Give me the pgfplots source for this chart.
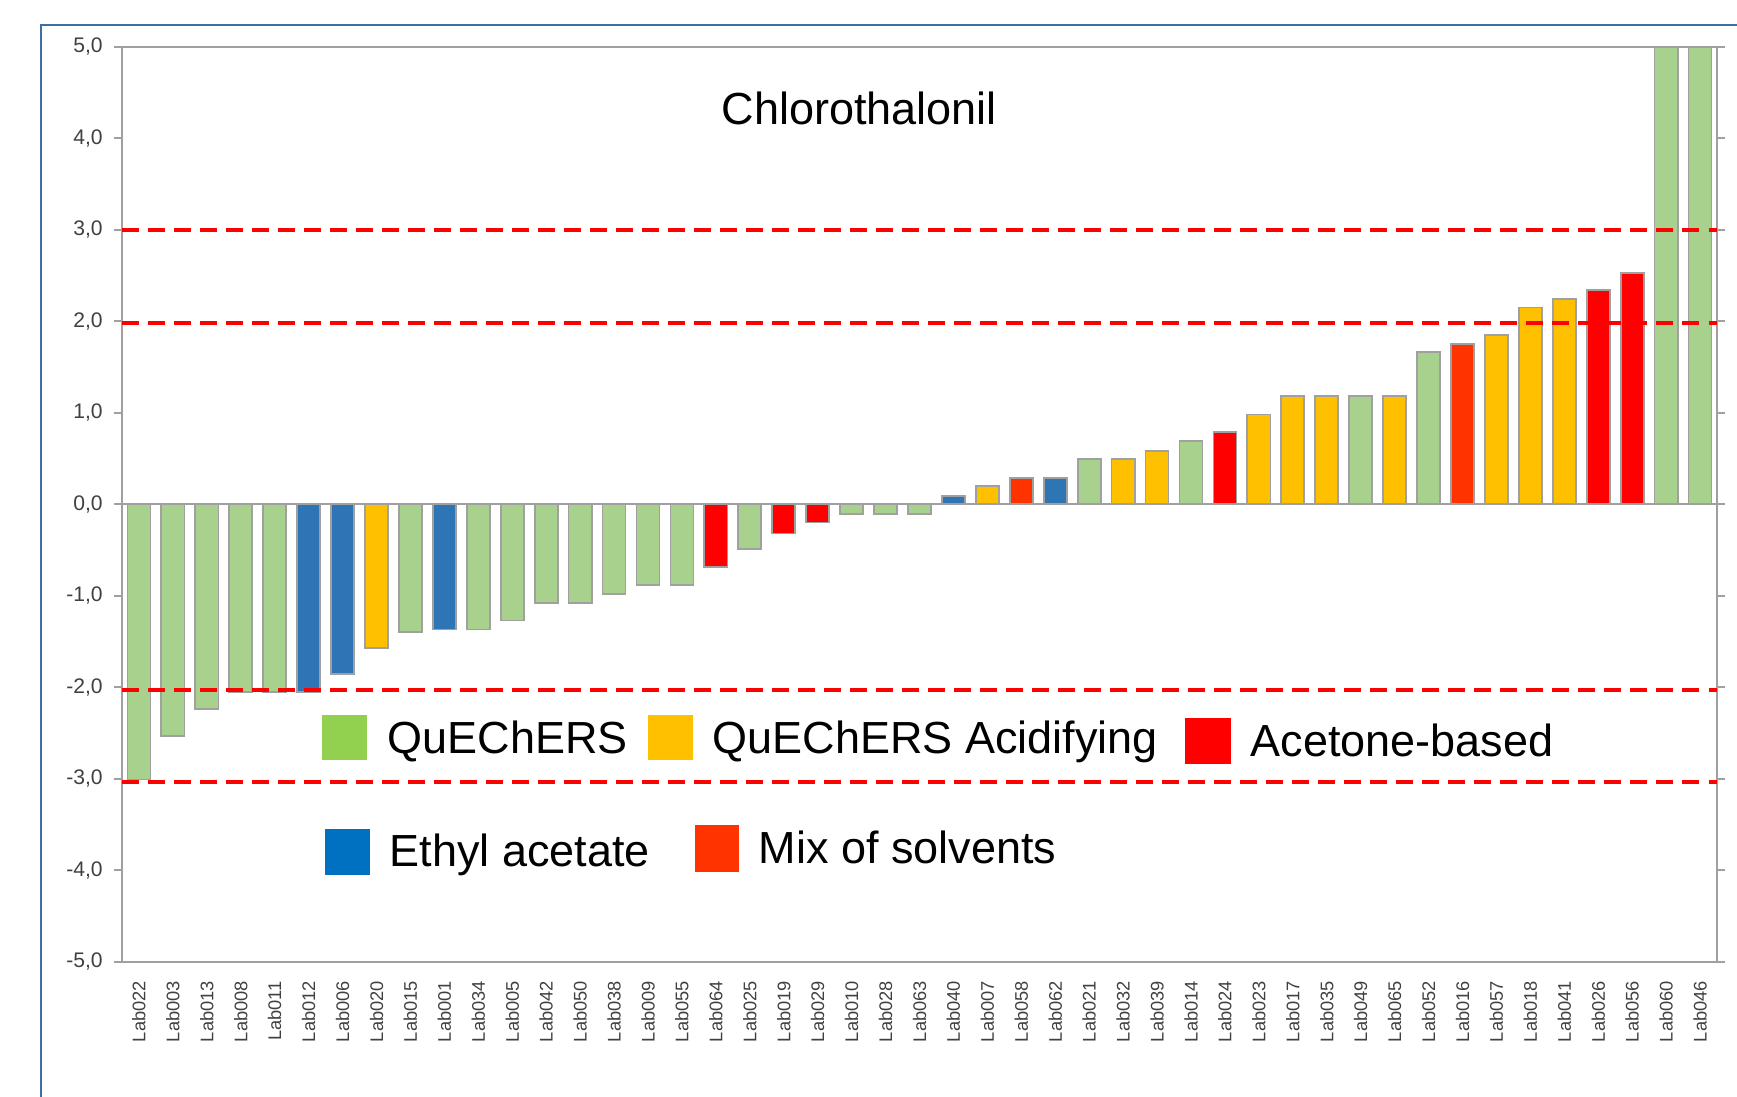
\documentclass[border=0pt]{standalone}
\usepackage{fontspec}
\setmainfont{Liberation Sans}
\usepackage{pgfplots}
\pgfplotsset{compat=1.18}

\definecolor{barG}{HTML}{A9D18E}
\definecolor{barB}{HTML}{2E75B6}
\definecolor{barY}{HTML}{FFC000}
\definecolor{barR}{HTML}{FF0000}
\definecolor{barO}{HTML}{FF3300}
\definecolor{lgG}{HTML}{92D050}
\definecolor{lgB}{HTML}{0070C0}
\definecolor{edge}{HTML}{A0A0A0}
\definecolor{frameblue}{HTML}{3F6DAA}
\definecolor{ticktext}{HTML}{404040}
\tikzset{limit/.style={red, line width=1.2pt, dash pattern=on 4.8pt off 2.6pt}}

\begin{document}
\begin{tikzpicture}
\useasboundingbox (0,0) rectangle (17.37,10.97);
\draw[frameblue, line width=0.7pt] (0.41,-0.2) -- (0.41,10.72) -- (17.6,10.72);

\begin{axis}[
    at={(1.22cm,1.353cm)}, anchor=south west,
    scale only axis, width=15.95cm, height=9.15cm,
    ybar, bar shift=0pt, bar width=0.68,
    xmin=-0.5, xmax=46.5, ymin=-5, ymax=5,
    xtick={0,...,46},
    xticklabels={Lab022,Lab003,Lab013,Lab008,Lab011,Lab012,Lab006,Lab020,Lab015,Lab001,
        Lab034,Lab005,Lab042,Lab050,Lab038,Lab009,Lab055,Lab064,Lab025,Lab019,
        Lab029,Lab010,Lab028,Lab063,Lab040,Lab007,Lab058,Lab062,Lab021,Lab032,
        Lab039,Lab014,Lab024,Lab023,Lab017,Lab035,Lab049,Lab065,Lab052,Lab016,
        Lab057,Lab018,Lab041,Lab026,Lab056,Lab060,Lab046},
    x tick style={draw=none},
    xticklabel style={rotate=90, anchor=east, inner sep=0pt,
        font=\fontsize{5.2}{6}\selectfont, text=ticktext},
    xticklabel shift=3pt,
    ytick={-5,-4,...,5},
    y tick style={draw=edge, line width=0.5pt},
    major tick length=2.3pt, tick align=outside,
    yticklabel style={inner sep=0pt, font=\fontsize{6}{7}\selectfont, text=ticktext,
        /pgf/number format/.cd, fixed, fixed zerofill, precision=1, use comma,
        assume math mode=true},
    yticklabel shift=3pt,
    axis line style={draw=edge, line width=0.6pt},
    minor tick num=0,
]
% QuEChERS
\addplot[fill=barG, draw=edge, line width=0.5pt] coordinates {
    (0,-3.01)(1,-2.53)(2,-2.24)(3,-2.05)(4,-2.05)(8,-1.40)(10,-1.37)(11,-1.27)
    (12,-1.08)(13,-1.08)(14,-0.98)(15,-0.88)(16,-0.88)(18,-0.49)(21,-0.11)
    (22,-0.11)(23,-0.11)(28,0.49)(31,0.69)(36,1.18)(38,1.66)(45,5.0)(46,5.0)};
% Ethyl acetate
\addplot[fill=barB, draw=edge, line width=0.5pt] coordinates {
    (5,-2.05)(6,-1.86)(9,-1.37)(24,0.09)(27,0.29)};
% QuEChERS Acidifying
\addplot[fill=barY, draw=edge, line width=0.5pt] coordinates {
    (7,-1.57)(25,0.20)(29,0.49)(30,0.58)(33,0.98)(34,1.18)(35,1.18)(37,1.18)
    (40,1.85)(41,2.15)(42,2.24)};
% Acetone-based
\addplot[fill=barR, draw=edge, line width=0.5pt] coordinates {
    (17,-0.69)(19,-0.32)(20,-0.20)(32,0.79)(43,2.34)(44,2.53)};
% Mix of solvents
\addplot[fill=barO, draw=edge, line width=0.5pt] coordinates {
    (26,0.29)(39,1.75)};

\draw[edge, line width=0.6pt] (axis cs:-0.5,0) -- (axis cs:46.5,0);
\draw[limit] (axis cs:-0.5,3) -- (axis cs:46.5,3);
\draw[limit] (axis cs:-0.5,1.98) -- (axis cs:46.5,1.98);
\draw[limit] (axis cs:-0.5,-2.03) -- (axis cs:46.5,-2.03);
\draw[limit] (axis cs:-0.5,-3.04) -- (axis cs:46.5,-3.04);
\end{axis}

% title
\node[anchor=base west, inner sep=0pt, font=\fontsize{12.8}{15}\selectfont] at (7.21,9.72) {Chlorothalonil};

% legend
\fill[lgG] (3.22,3.37) rectangle (3.67,3.82);
\node[anchor=base west, inner sep=0pt, font=\fontsize{12.8}{15}\selectfont] at (3.87,3.43) {QuEChERS};
\fill[barY] (6.48,3.37) rectangle (6.93,3.82);
\node[anchor=base west, inner sep=0pt, font=\fontsize{12.8}{15}\selectfont] at (7.12,3.43) {QuEChERS Acidifying};
\fill[barR] (11.85,3.33) rectangle (12.31,3.79);
\node[anchor=base west, inner sep=0pt, font=\fontsize{12.8}{15}\selectfont] at (12.50,3.40) {Acetone-based};
\fill[lgB] (3.25,2.22) rectangle (3.70,2.68);
\node[anchor=base west, inner sep=0pt, font=\fontsize{12.8}{15}\selectfont] at (3.89,2.30) {Ethyl acetate};
\fill[barO] (6.95,2.25) rectangle (7.39,2.72);
\node[anchor=base west, inner sep=0pt, font=\fontsize{12.8}{15}\selectfont] at (7.58,2.33) {Mix of solvents};
\end{tikzpicture}
\end{document}
